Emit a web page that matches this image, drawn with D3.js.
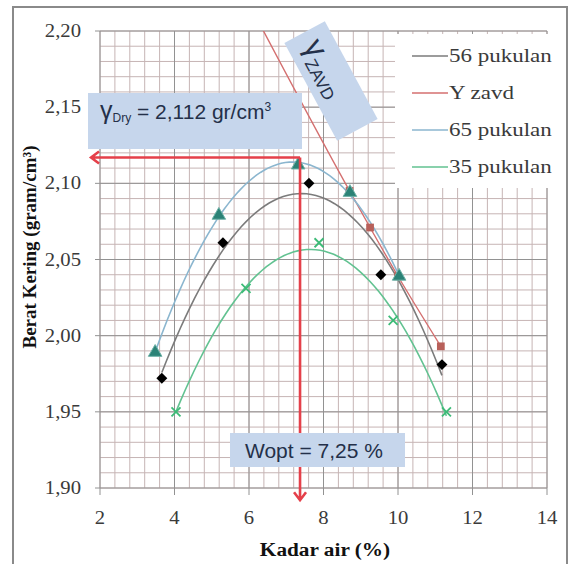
<!DOCTYPE html>
<html>
<head>
<meta charset="utf-8">
<script src="https://cdn.jsdelivr.net/npm/d3@7"></script>
<style>
  body { margin: 0; background: #fff; }
  svg { display: block; }
</style>
</head>
<body>
<div id="chart"></div>
<script>

// Data
const series56X = [3.66, 5.30, 7.61, 9.54, 11.18];
const series56Y = [1.972, 2.061, 2.100, 2.040, 1.981];
const zavdX = [6.0, 8.7, 9.25, 10.0, 11.15];
const zavdY = [2.218, 2.095, 2.071, 2.039, 1.993];
const series65X = [3.48, 5.19, 7.32, 8.71, 10.03];
const series65Y = [1.989, 2.079, 2.112, 2.094, 2.039];
const series35X = [4.04, 5.92, 7.88, 9.87, 11.30];
const series35Y = [1.950, 2.031, 2.061, 2.010, 1.950];

const seriesNames = ["56 pukulan", "Y zavd", "65 pukulan", "35 pukulan"];
const xTicks = [2, 4, 6, 8, 10, 12, 14];
const yTicks = [1.90, 1.95, 2.00, 2.05, 2.10, 2.15, 2.20];

// optimum
const optX = 7.37, optY = 2.117;

const W = 572, H = 564;
const serif = "'Liberation Serif', 'Times New Roman', serif";
const sans = "'Liberation Sans', Arial, sans-serif";

const svg = d3.select("#chart").append("svg")
  .attr("width", W).attr("height", H);

// outer frame
svg.append("rect")
  .attr("x", 13).attr("y", 7).attr("width", 554).attr("height", 575)
  .attr("fill", "#fff").attr("stroke", "#8a8a8a").attr("stroke-width", 2);

const x = d3.scaleLinear().domain([2, 14]).range([100, 547]);
const y = d3.scaleLinear().domain([1.90, 2.20]).range([488, 31]);

// grid
const grid = svg.append("g");
const xGrid = d3.range(0, 31).map(i => 2 + i * 0.4);
const yGrid = d3.range(0, 31).map(i => 1.90 + i * 0.01);
grid.selectAll(".vx").data(xGrid).join("line")
  .attr("x1", d => x(d)).attr("x2", d => x(d))
  .attr("y1", y(2.20)).attr("y2", y(1.90))
  .attr("stroke", "#c6b4b4").attr("stroke-width", 1);
grid.selectAll(".hy").data(yGrid).join("line")
  .attr("y1", d => y(d)).attr("y2", d => y(d))
  .attr("x1", x(2)).attr("x2", x(14))
  .attr("stroke", "#c6b4b4").attr("stroke-width", 1);
grid.selectAll(".mx").data(xTicks).join("line")
  .attr("x1", d => x(d)).attr("x2", d => x(d))
  .attr("y1", y(2.20)).attr("y2", y(1.90) + 7)
  .attr("stroke", "#929292");
grid.selectAll(".my").data(yTicks).join("line")
  .attr("y1", d => y(d)).attr("y2", d => y(d))
  .attr("x1", x(2) - 5).attr("x2", x(14))
  .attr("stroke", "#929292");

// stretched text helper
function stext(g, px, py, str, size, sx, anchor, weight, fam) {
  return g.append("text")
    .attr("transform", `translate(${px},${py}) scale(${sx},1)`)
    .attr("text-anchor", anchor)
    .attr("font-family", fam || serif)
    .attr("font-size", size)
    .attr("font-weight", weight || "normal")
    .attr("fill", "#3a3a3a")
    .text(str);
}

const fmtY = d => d3.format(".2f")(d).replace(".", ",");
yTicks.forEach(t => stext(svg, 81, y(t) + 6, fmtY(t), 18, 1.15, "end"));
xTicks.forEach(t => stext(svg, x(t), 524, t, 18, 1.15, "middle"));

stext(svg, 325, 556, "Kadar air (%)", 19, 1.12, "middle", "bold").attr("fill", "#111");
svg.append("text")
  .attr("transform", "translate(29,247) rotate(-90)")
  .attr("text-anchor", "middle").attr("dy", "0.35em")
  .attr("font-family", serif).attr("font-size", 19).attr("font-weight", "bold")
  .attr("fill", "#111")
  .text("Berat Kering (gram/cm³)");

// quadratic trendline (least squares)
function quadFit(xs, ys) {
  let s = [0, 0, 0, 0, 0], t = [0, 0, 0];
  xs.forEach((xv, i) => {
    for (let k = 0; k < 5; k++) s[k] += Math.pow(xv, k);
    for (let k = 0; k < 3; k++) t[k] += ys[i] * Math.pow(xv, k);
  });
  const A = [[s[0], s[1], s[2], t[0]], [s[1], s[2], s[3], t[1]], [s[2], s[3], s[4], t[2]]];
  for (let i = 0; i < 3; i++) {
    for (let j = i + 1; j < 3; j++) {
      const f = A[j][i] / A[i][i];
      for (let k = i; k < 4; k++) A[j][k] -= f * A[i][k];
    }
  }
  const c = [0, 0, 0];
  for (let i = 2; i >= 0; i--) {
    let v = A[i][3];
    for (let k = i + 1; k < 3; k++) v -= A[i][k] * c[k];
    c[i] = v / A[i][i];
  }
  return xv => c[0] + c[1] * xv + c[2] * xv * xv;
}

svg.append("clipPath").attr("id", "plotclip")
  .append("rect").attr("x", 100).attr("y", 31).attr("width", 447).attr("height", 457);
const plot = svg.append("g").attr("clip-path", "url(#plotclip)");

const line = d3.line().x(d => x(d[0])).y(d => y(d[1]));

function trend(xs, ys, color) {
  const f = quadFit(xs, ys);
  const lo = d3.min(xs), hi = d3.max(xs);
  const pts = d3.range(0, 61).map(i => {
    const xv = lo + (hi - lo) * i / 60;
    return [xv, f(xv)];
  });
  plot.append("path").datum(pts)
    .attr("fill", "none").attr("stroke", color).attr("stroke-width", 1.6)
    .attr("d", line);
}

trend(series56X, series56Y, "#7b7b7b");
plot.append("path").datum(zavdX.map((v, i) => [v, zavdY[i]]))
  .attr("fill", "none").attr("stroke", "#d46f6f").attr("stroke-width", 1.4)
  .attr("d", line.curve(d3.curveMonotoneX));
line.curve(d3.curveLinear);
trend(series65X, series65Y, "#8bb6cf");
trend(series35X, series35Y, "#62c291");

// markers
plot.selectAll(".d56").data(series56X).join("path")
  .attr("transform", (d, i) => `translate(${x(d)},${y(series56Y[i])}) rotate(45)`)
  .attr("d", d3.symbol(d3.symbolSquare, 60)())
  .attr("fill", "#000");
plot.selectAll(".zv").data(zavdX).join("path")
  .attr("transform", (d, i) => `translate(${x(d)},${y(zavdY[i])})`)
  .attr("d", d3.symbol(d3.symbolSquare, 60)())
  .attr("fill", "#b8605a");
plot.selectAll(".t65").data(series65X).join("path")
  .attr("transform", (d, i) => `translate(${x(d)},${y(series65Y[i])})`)
  .attr("d", d3.symbol(d3.symbolTriangle, 80)())
  .attr("fill", "#2b8276").attr("stroke", "#6fb2a8").attr("stroke-width", 1);
plot.selectAll(".x35").data(series35X).join("path")
  .attr("transform", (d, i) => `translate(${x(d)},${y(series35Y[i])})`)
  .attr("d", "M-4.5,-4.5L4.5,4.5M-4.5,4.5L4.5,-4.5")
  .attr("fill", "none").attr("stroke", "#3dbb77").attr("stroke-width", 1.8);

// red arrows
const red = "#e5404a";
const ax = x(optX), ay = y(optY);
const leftEnd = x(1.76), downEnd = y(1.892);
svg.append("path")
  .attr("d", `M${ax},${ay}L${leftEnd},${ay}M${leftEnd + 8},${ay - 6}L${leftEnd},${ay}L${leftEnd + 8},${ay + 6}`)
  .attr("fill", "none").attr("stroke", red).attr("stroke-width", 2.6);
svg.append("path")
  .attr("d", `M${ax},${ay}L${ax},${downEnd}M${ax - 6},${downEnd - 8}L${ax},${downEnd}L${ax + 6},${downEnd - 8}`)
  .attr("fill", "none").attr("stroke", red).attr("stroke-width", 2.6);

// annotation boxes
const boxFill = "#c6d6ec", boxText = "#243049";
svg.append("rect").attr("x", 88).attr("y", 93).attr("width", 214).attr("height", 56).attr("fill", boxFill);
const gd = svg.append("text").attr("x", 100).attr("y", 119)
  .attr("font-family", sans).attr("font-size", 21).attr("fill", boxText);
gd.append("tspan").attr("font-size", 25).text("γ");
gd.append("tspan").attr("font-size", 12).attr("dy", 3).text("Dry");
gd.append("tspan").attr("dy", -3).text(" = 2,112 gr/cm");
gd.append("tspan").attr("font-size", 12).attr("dy", -8).text("3");

svg.append("rect").attr("x", 230).attr("y", 433).attr("width", 175).attr("height", 34).attr("fill", boxFill);
svg.append("text").attr("x", 245).attr("y", 458)
  .attr("font-family", sans).attr("font-size", 21).attr("fill", boxText)
  .text("Wopt = 7,25 %");

const gz = svg.append("g").attr("transform", "translate(331,81) rotate(61.6)");
gz.append("rect").attr("x", -55.5).attr("y", -23).attr("width", 111).attr("height", 46).attr("fill", boxFill);
const zt = gz.append("text").attr("x", -44).attr("y", 8)
  .attr("font-family", sans).attr("font-size", 31).attr("fill", boxText);
zt.append("tspan").text("γ");
zt.append("tspan").attr("font-size", 17).attr("dy", 7).text("ZAVD");

// legend
const legend = svg.append("g");
legend.append("rect").attr("x", 395).attr("y", 34).attr("width", 170).attr("height", 154).attr("fill", "#fff");
const legendColors = ["#7b7b7b", "#d46f6f", "#8bb6cf", "#62c291"];
seriesNames.forEach((name, i) => {
  const cy = 56 + i * 37;
  legend.append("line").attr("x1", 412).attr("x2", 448).attr("y1", cy).attr("y2", cy)
    .attr("stroke", legendColors[i]).attr("stroke-width", 1.6);
  stext(legend, 449, cy + 6, name, 19.5, 1.18, "start");
});

</script>
</body>
</html>
